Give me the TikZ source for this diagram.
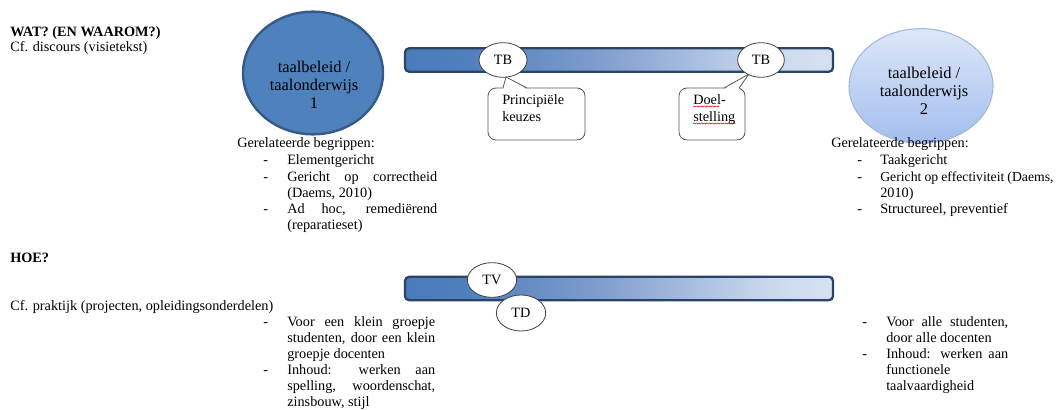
\documentclass[tikz,border=0pt]{standalone}
\usepackage{fontspec}
\setmainfont{Liberation Serif}
\usetikzlibrary{shapes.geometric,decorations.pathmorphing}
\definecolor{blueA}{HTML}{4F81BD}
\definecolor{blueEdge}{HTML}{345A88}
\definecolor{barEdge}{HTML}{2A4465}
\definecolor{lightTop}{HTML}{DDE7F8}
\definecolor{lightBot}{HTML}{A3BEEE}
\definecolor{lightEdge}{HTML}{A2B6DC}
\pgfdeclarehorizontalshading{barshade}{100bp}{rgb(0bp)=(0.29,0.48,0.73); rgb(25bp)=(0.29,0.48,0.73); rgb(32bp)=(0.31,0.50,0.74); rgb(47bp)=(0.49,0.61,0.80); rgb(60bp)=(0.68,0.76,0.89); rgb(68bp)=(0.80,0.85,0.93); rgb(75bp)=(0.84,0.88,0.95); rgb(100bp)=(0.84,0.88,0.95)}
\tikzset{
  txt/.style={anchor=base west, inner sep=0pt, font=\fontsize{10.7}{12}\selectfont},
  elltext/.style={align=center, inner sep=0pt, font=\fontsize{12.3}{13.6}\selectfont},
  bigell/.style={ellipse, inner sep=0pt},
  barbox/.style={rectangle, rounded corners=3pt, shade, shading=barshade, draw=barEdge, line width=1.7pt, minimum width=321pt, minimum height=17.5pt, inner sep=0pt},
  tbell/.style={ellipse, draw=black!75, line width=0.6pt, fill=white, inner sep=0pt, font=\fontsize{10.7}{12}\selectfont},
  callbox/.style={rectangle, rounded corners=6pt, draw=black!65, line width=0.6pt, fill=white, inner sep=0pt},
  callline/.style={draw=black!65, line width=0.6pt, line join=round},
  spell/.style={draw=red!85!black, line width=0.4pt, decorate, decoration={snake, amplitude=0.45pt, segment length=2pt}}
}
\begin{document}
\begin{tikzpicture}[x=0.75pt, y=-0.75pt]
\useasboundingbox (0,0) rectangle (1060,410);

% headings
\node[txt, font=\fontsize{10.7}{12}\selectfont\bfseries] (wat) at (10,37) {WAT? (EN WAAROM?)};
\node[txt] (cf1) at (10,52) {Cf. discours (visietekst)};
\node[txt, font=\fontsize{10.7}{12}\selectfont\bfseries] (hoe) at (10,262) {HOE?};
\node[txt] (cf2) at (10,310) {Cf. praktijk (projecten, opleidingsonderdelen)};

% ellipses
\node[bigell, fill=blueA, draw=blueEdge, line width=1.8pt, minimum width=105pt, minimum height=92pt] (e1) at (313,73) {};
\node[elltext] (e1t) at (314,85) {taalbeleid /\\taalonderwijs\\1};
\node[bigell, top color=lightTop, bottom color=lightBot, draw=lightEdge, line width=0.8pt, minimum width=108pt, minimum height=86pt] (e2) at (921,86) {};
\node[elltext] (e2t) at (924,91) {taalbeleid /\\taalonderwijs\\2};

% bars
\node[barbox] (bar1) at (619,60) {};
\node[barbox] (bar2) at (619,288.5) {};

% TB / TV / TD
\node[tbell, minimum width=36pt, minimum height=26pt] (tb1) at (503,60) {TB};
\node[tbell, minimum width=35pt, minimum height=26pt] (tb2) at (761,60) {TB};
\node[tbell, minimum width=37pt, minimum height=26pt] (tv) at (492,280) {TV};
\node[tbell, minimum width=37pt, minimum height=27pt] (td) at (521,313) {TD};

% callouts
\node[callbox, minimum width=72.75pt, minimum height=39pt] (c1) at (536.5,114) {};
\coordinate (c1a) at (503,88);
\coordinate (c1t) at (506,77);
\coordinate (c1b) at (527,88);
\coordinate (c1af) at (503.3,89.2);
\coordinate (c1bf) at (526.5,89.2);
\fill[white] (c1af) -- (c1t) -- (c1bf) -- cycle;
\draw[callline] (c1a) -- (c1t) -- (c1b);
\node[txt] (c1l1) at (502,104) {Principiële};
\node[txt] (c1l2) at (502,121) {keuzes};

\node[callbox, minimum width=49.5pt, minimum height=39pt] (c2) at (712,114) {};
\coordinate (c2a) at (724,88);
\coordinate (c2t) at (749,74);
\coordinate (c2b) at (739,88);
\coordinate (c2af) at (724.5,89.2);
\coordinate (c2bf) at (738.8,89.2);
\fill[white] (c2af) -- (c2t) -- (c2bf) -- cycle;
\draw[callline] (c2a) -- (c2t) -- (c2b);
\node[txt] (c2l1) at (693,104) {Doel-};
\node[txt] (c2l2) at (693,121) {stelling};
\coordinate (u1a) at (693,106.5);
\coordinate (u1b) at (719,106.5);
\coordinate (u2a) at (693,123.5);
\coordinate (u2b) at (735,123.5);
\draw[spell] (u1a) -- (u1b);
\draw[spell] (u2a) -- (u2b);

% related concepts left
\node[txt] (gl) at (237,147) {Gerelateerde begrippen:};
\node[txt] (gld1) at (263,164) {-};
\node[txt] (gl1) at (287,164) {Elementgericht};
\node[txt] (gld2) at (263,181) {-};
\node[txt] (gl2) at (287,181) {\makebox[112.5pt][s]{Gericht op correctheid}};
\node[txt] (gl3) at (287,197) {(Daems, 2010)};
\node[txt] (gld3) at (263,213) {-};
\node[txt] (gl4) at (287,213) {\makebox[112.5pt][s]{Ad hoc, remediërend}};
\node[txt] (gl5) at (287,229) {(reparatieset)};

% related concepts right
\node[txt] (gr) at (831,147) {Gerelateerde begrippen:};
\node[txt] (grd1) at (857,164) {-};
\node[txt] (gr1) at (880,164) {Taakgericht};
\node[txt] (grd2) at (857,181) {-};
\node[txt, font=\fontsize{10.3}{12}\selectfont] (gr2) at (880,181) {\makebox[130pt][s]{Gericht op effectiviteit (Daems,}};
\node[txt] (gr3) at (880,197) {2010)};
\node[txt] (grd3) at (857,213) {-};
\node[txt] (gr4) at (880,213) {Structureel, preventief};

% practice left
\node[txt] (pld1) at (263,326) {-};
\node[txt] (pl1) at (287,326) {\makebox[111pt][s]{Voor een klein groepje}};
\node[txt] (pl2) at (287,342) {\makebox[111pt][s]{studenten, door een klein}};
\node[txt] (pl3) at (287,358) {groepje docenten};
\node[txt] (pld2) at (263,374) {-};
\node[txt] (pl4) at (287,374) {\makebox[111pt][s]{Inhoud: werken aan}};
\node[txt] (pl5) at (287,390) {\makebox[111pt][s]{spelling, woordenschat,}};
\node[txt] (pl6) at (287,406) {zinsbouw, stijl};

% practice right
\node[txt] (prd1) at (862,326) {-};
\node[txt] (pr1) at (886,326) {\makebox[91.5pt][s]{Voor alle studenten,}};
\node[txt] (pr2) at (886,342) {door alle docenten};
\node[txt] (prd2) at (862,358) {-};
\node[txt] (pr3) at (886,358) {\makebox[91.5pt][s]{Inhoud: werken aan}};
\node[txt] (pr4) at (886,374) {functionele};
\node[txt] (pr5) at (886,390) {taalvaardigheid};
\end{tikzpicture}
\end{document}
